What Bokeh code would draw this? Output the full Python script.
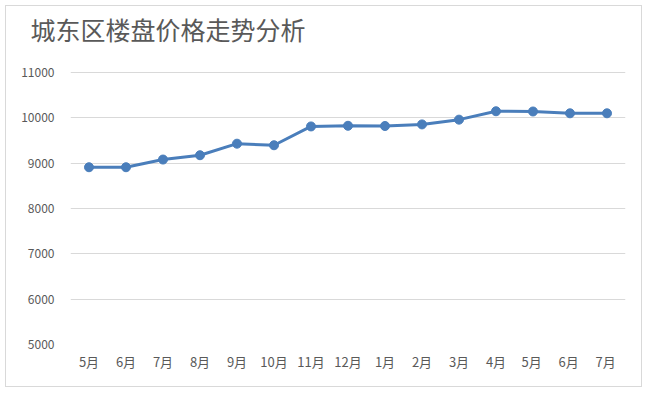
from bokeh.plotting import figure
from bokeh.models import FactorRange, Range1d, FixedTicker, Title
from bokeh.embed import file_html
from bokeh.resources import INLINE

months = ["5月", "6月", "7月", "8月", "9月", "10月", "11月", "12月", "1月", "2月", "3月", "4月", "5月 ", "6月 ", "7月 "]
prices = [8910, 8910, 9080, 9175, 9430, 9395, 9810, 9825, 9820, 9855, 9960, 10145, 10140, 10100, 10100]
y_ticks = [5000, 6000, 7000, 8000, 9000, 10000, 11000]
title_text = "城东区楼盘价格走势分析"

FONT = "Noto Sans CJK SC"
GRAY = "#595959"

# frame starts 24px above the 11000 gridline (272px per 6000) to leave room for the title
y_min, y_top_tick = 5000, 11000
y_max = y_top_tick + (y_top_tick - y_min) * 24 / 272

p = figure(width=637, height=382, output_backend="svg", toolbar_location=None,
           x_range=FactorRange(*months), y_range=Range1d(y_min, y_max),
           min_border_left=64, min_border_right=18, min_border_top=42, min_border_bottom=44)
p.title = Title(text=title_text, text_font=FONT, text_font_size="25px", text_color=GRAY,
                text_font_style="normal", align="left", offset=-40, standoff=4)

p.line(months, prices, line_color="#4a7ebb", line_width=3)
p.scatter(months, prices, size=9, fill_color="#4a7ebb", line_color="#4a7ebb")

p.yaxis.ticker = FixedTicker(ticks=y_ticks)
for ax in (p.xaxis[0], p.yaxis[0]):
    ax.axis_line_color = None
    ax.major_tick_line_color = None
    ax.minor_tick_line_color = None
    ax.major_label_text_font = FONT
    ax.major_label_text_color = GRAY
p.yaxis.major_label_text_font_size = "12px"
p.xaxis.major_label_text_font_size = "13px"
p.yaxis.major_label_standoff = 10
p.xaxis.major_label_standoff = 1
p.xgrid.grid_line_color = None
p.ygrid.grid_line_color = "#d9d9d9"
p.ygrid.grid_line_width = 1
p.outline_line_color = None
p.styles = {"border": "1px solid #d9d9d9", "margin-left": "5px", "margin-top": "5px"}

open("out.html", "w").write(file_html(p, INLINE))
